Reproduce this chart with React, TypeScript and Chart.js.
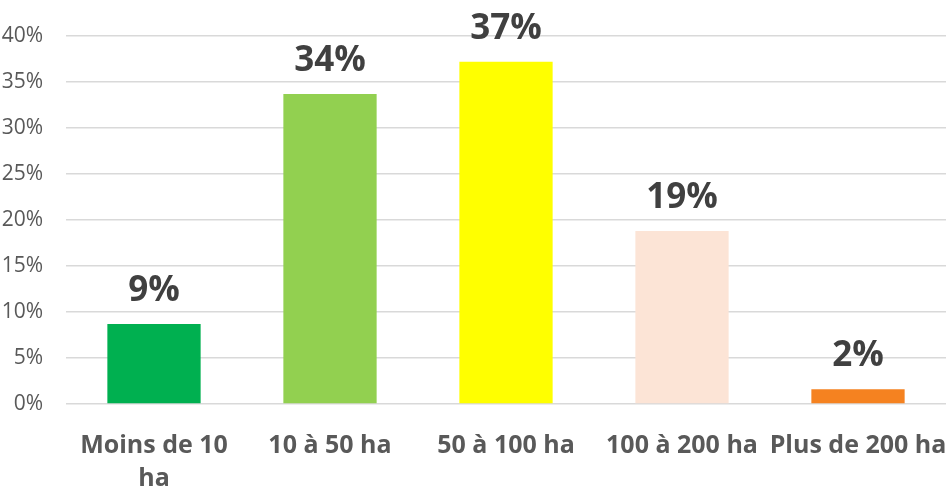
import React, { useEffect, useRef } from "react";
import { Chart, registerables } from "chart.js";

Chart.register(...registerables);

const categories: (string | string[])[] = [
  ["Moins de 10", "ha"],
  "10 à 50 ha",
  "50 à 100 ha",
  "100 à 200 ha",
  "Plus de 200 ha",
];
const values = [8.7, 33.7, 37.2, 18.8, 1.6];
const valueLabels = ["9%", "34%", "37%", "19%", "2%"];
const barColors = ["#00B050", "#92D050", "#FFFF00", "#FCE4D6", "#F58220"];

const labelPlugin = {
  id: "valueLabels",
  afterDatasetsDraw(chart: any) {
    const ctx = chart.ctx;
    const meta = chart.getDatasetMeta(0);
    ctx.save();
    ctx.font = "bold 35px 'Open Sans'";
    ctx.fillStyle = "#404040";
    ctx.textAlign = "center";
    ctx.textBaseline = "alphabetic";
    meta.data.forEach((bar: any, i: number) => {
      ctx.fillText(valueLabels[i], bar.x, bar.y - 23);
    });
    ctx.restore();
  },
};

export default function App() {
  const ref = useRef<HTMLCanvasElement | null>(null);
  useEffect(() => {
    if (!ref.current) return;
    const chart = new Chart(ref.current, {
      type: "bar",
      data: {
        labels: categories,
        datasets: [
          {
            data: values,
            backgroundColor: barColors,
            categoryPercentage: 1,
            barPercentage: 0.53,
          },
        ],
      },
      options: {
        responsive: false,
        animation: false,
        layout: { padding: { top: 36, right: 1, left: 0, bottom: 0 } },
        plugins: { legend: { display: false }, tooltip: { enabled: false } },
        scales: {
          x: {
            grid: { display: false, drawTicks: false },
            border: { display: false },
            ticks: {
              color: "#595959",
              font: { family: "'Open Sans'", size: 25, weight: "bold", lineHeight: 1.3 },
              maxRotation: 0,
              autoSkip: false,
              padding: 26,
            },
            afterFit(scale: any) {
              scale.height = 84;
              scale.paddingLeft = 0;
              scale.paddingRight = 0;
            },
          },
          y: {
            min: 0,
            max: 40,
            grid: { color: "#D9D9D9", lineWidth: 1.5, drawTicks: false },
            border: { display: false },
            ticks: {
              stepSize: 5,
              color: "#595959",
              font: { family: "'Open Sans'", size: 21 },
              padding: 23,
              callback: (v: any) => v + "%",
            },
            afterFit(scale: any) {
              scale.width = 66;
            },
          },
        },
      },
      plugins: [labelPlugin],
    });
    return () => chart.destroy();
  }, []);
  return (
    <div style={{ position: "fixed", left: 0, top: 0, width: 947, height: 488, background: "#fff" }}>
      <canvas ref={ref} width={947} height={488} />
    </div>
  );
}
